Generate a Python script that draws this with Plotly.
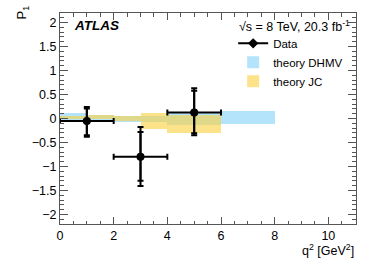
import plotly.graph_objects as go

# Data points
q2 = [1, 3, 5]
q2_halfwidth = [1, 1, 1]
p1 = [-0.05, -0.80, 0.125]
err_tot_up = [0.29, 0.625, 0.505]
err_tot_dn = [0.33, 0.61, 0.475]
err_stat_up = [0.26, 0.52, 0.455]
err_stat_dn = [0.30, 0.50, 0.435]

# theory DHMV bands (bin edges low/high, band low/high)
dhmv_lo_edge = [0, 1, 2, 4, 6]
dhmv_hi_edge = [1, 2, 4, 6, 8]
dhmv_low = [-0.05, -0.03, -0.07, -0.14, -0.125]
dhmv_high = [0.12, 0.08, 0.06, 0.12, 0.15]

# theory JC bands
jc_lo_edge = [0, 1, 2, 3, 4]
jc_hi_edge = [1, 2, 3, 4, 6]
jc_low = [-0.02, 0.0, -0.05, -0.22, -0.31]
jc_high = [0.05, 0.08, 0.05, 0.11, 0.08]

FONT = "Liberation Sans, Arial, Helvetica, sans-serif"

def centers(lo, hi):
    return [(a + b) / 2 for a, b in zip(lo, hi)]

def widths(lo, hi):
    return [b - a for a, b in zip(lo, hi)]

fig = go.Figure()

fig.add_trace(go.Bar(
    x=centers(dhmv_lo_edge, dhmv_hi_edge),
    y=[h - l for h, l in zip(dhmv_high, dhmv_low)],
    base=dhmv_low,
    width=widths(dhmv_lo_edge, dhmv_hi_edge),
    marker=dict(color="#b3e4fb", line=dict(width=0)),
    name="theory DHMV", legendrank=2,
))
fig.add_trace(go.Bar(
    x=centers(jc_lo_edge, jc_hi_edge),
    y=[h - l for h, l in zip(jc_high, jc_low)],
    base=jc_low,
    width=widths(jc_lo_edge, jc_hi_edge),
    marker=dict(color="rgba(250,208,60,0.6)", line=dict(width=0)),
    name="theory JC", legendrank=3,
))

fig.add_trace(go.Scatter(
    x=q2, y=p1, mode="markers",
    marker=dict(color="black", size=7),
    error_y=dict(type="data", symmetric=False, array=err_stat_up, arrayminus=err_stat_dn,
                 color="black", thickness=2, width=3),
    showlegend=False, hoverinfo="skip",
))
fig.add_trace(go.Scatter(
    x=q2, y=p1, mode="markers",
    marker=dict(color="black", size=8),
    error_x=dict(type="data", array=q2_halfwidth, color="black", thickness=2, width=3),
    error_y=dict(type="data", symmetric=False, array=err_tot_up, arrayminus=err_tot_dn,
                 color="black", thickness=2, width=3),
    name="Data", showlegend=False, legendgroup="data",
))
# legend entry for data (line + marker symbol)
fig.add_trace(go.Scatter(
    x=[None], y=[None], mode="lines+markers",
    marker=dict(color="black", size=8, symbol="diamond"),
    line=dict(color="black", width=2),
    name="Data", legendrank=1, legendgroup="data",
))

axis_common = dict(
    showline=True, linecolor="#555", linewidth=1, mirror="ticks",
    ticks="inside", tickcolor="#555", showgrid=False, zeroline=False,
    tickfont=dict(family=FONT, size=12.5, color="black"),
)

fig.update_xaxes(range=[0, 11.03], dtick=2, tick0=0, ticklen=7,
                 minor=dict(dtick=0.5, ticklen=3.5, ticks="inside", tickcolor="#555"),
                 **axis_common)
fig.update_yaxes(range=[-2.2, 2.2], dtick=0.5, tick0=0, ticklen=8,
                 minor=dict(dtick=0.1, ticklen=4, ticks="inside", tickcolor="#555"),
                 **axis_common)

fig.update_layout(
    width=374, height=268,
    margin=dict(l=60, r=18, t=13, b=44),
    paper_bgcolor="white", plot_bgcolor="white",
    barmode="overlay",
    bargap=0,
    font=dict(family=FONT, color="black"),
    legend=dict(x=0.585, y=0.925, xanchor="left", yanchor="top",
                font=dict(family=FONT, size=11.5), bgcolor="rgba(0,0,0,0)",
                itemwidth=30, tracegroupgap=0),
    annotations=[
        dict(text="<b><i>ATLAS</i></b>", x=0.04, y=0.985, xref="paper", yref="paper",
             xanchor="left", yanchor="top", showarrow=False,
             font=dict(family=FONT, size=13.5)),
        dict(text="√s = 8 TeV, 20.3 fb<sup>-1</sup>", x=0.985, y=0.985, xref="paper", yref="paper",
             xanchor="right", yanchor="top", showarrow=False,
             font=dict(family=FONT, size=12.5)),
        dict(text="P<sub>1</sub>", x=-0.125, y=1.045, xref="paper", yref="paper",
             xanchor="center", yanchor="top", showarrow=False, textangle=-90,
             font=dict(family=FONT, size=13)),
        dict(text="q<sup>2</sup> [GeV<sup>2</sup>]", x=1.0, y=-0.123, xref="paper", yref="paper",
             xanchor="right", yanchor="middle", showarrow=False,
             font=dict(family=FONT, size=12.5)),
    ],
)

fig.write_html("out.html", config={"displayModeBar": False},
               post_script="document.body.style.margin='0';")
